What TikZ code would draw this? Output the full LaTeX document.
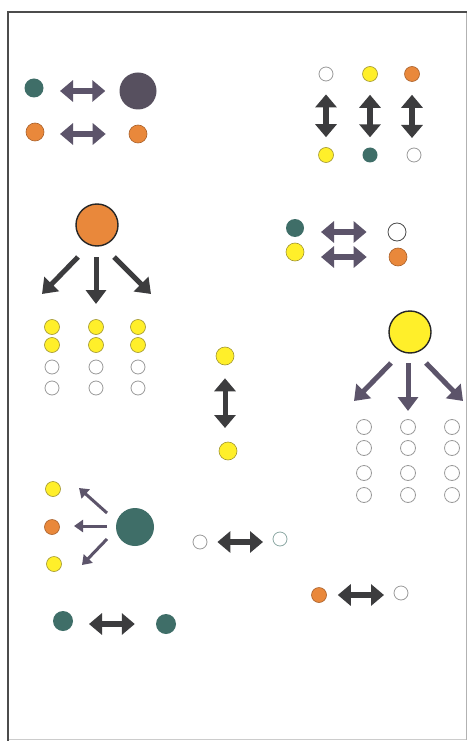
\documentclass[tikz,border=0pt]{standalone}
\usetikzlibrary{arrows.meta}
\definecolor{teal1}{HTML}{3F6E68}
\definecolor{plum}{HTML}{57505F}
\definecolor{org}{HTML}{E9883B}
\definecolor{orgline}{HTML}{A9602A}
\definecolor{yel}{HTML}{FFEF2A}
\definecolor{yelline}{HTML}{A09530}
\definecolor{darkar}{HTML}{3C3C3E}
\definecolor{plumar}{HTML}{5C546A}
\definecolor{ring}{HTML}{9A9A9A}
\tikzset{
  dot/.style={circle, inner sep=0pt, minimum size=#1},
  tealdot/.style={dot=#1, fill=teal1},
  orgdot/.style={dot=#1, fill=org, draw=orgline, line width=0.6pt},
  yeldot/.style={dot=#1, fill=yel, draw=yelline, line width=0.6pt},
  whitedot/.style={dot=#1, fill=white, draw=ring, line width=0.8pt},
  bigorg/.style={dot=42pt, fill=org, draw=black!85, line width=1.4pt},
  bigyel/.style={dot=42pt, fill=yel, draw=black!85, line width=1.4pt},
  dbl/.style={line width=6pt, arrows={Triangle[width=21pt,length=13pt]-Triangle[width=21pt,length=13pt]}},
  fanarrow/.style={line width=5pt, arrows={-Triangle[width=20pt,length=14pt]}},
  thinarrow/.style={line width=3pt, arrows={-Triangle[width=12pt,length=9pt]}},
}
\begin{document}
\begin{tikzpicture}[x=1pt,y=-1pt]
\useasboundingbox (0,0) rectangle (468,743);
\fill[white] (0,0) rectangle (468,743);
% frame
\draw[black!20, line width=0.8pt] (8,739) -- (466,739);
\draw[black!30, line width=1pt] (466.5,12) -- (466.5,740);
\draw[black!70, line width=2pt, line cap=rect] (8,740) -- (8,12) -- (466,12);

% top-left pairs
\node[tealdot=19pt] (tl1) at (34,88) {};
\node[dot=37pt, fill=plum] (tl2) at (138,91) {};
\node[orgdot=18pt] (tl3) at (35,132) {};
\node[orgdot=18pt] (tl4) at (138,134) {};
\draw[dbl, plumar, shorten <=26pt, shorten >=14pt] (tl2 -| tl1) -- (tl2);
\draw[dbl, plumar, shorten <=25pt, shorten >=23pt] (tl4 -| tl3) -- (tl4);

% top-right verticals
\node[whitedot=14pt] (tr1) at (326,74) {};
\node[yeldot=15pt] (tr2) at (370,74) {};
\node[orgdot=15pt] (tr3) at (412,74) {};
\node[yeldot=15pt] (tr4) at (326,155) {};
\node[tealdot=15pt] (tr5) at (370,155) {};
\node[whitedot=14pt] (tr6) at (414,155) {};
\draw[dbl, darkar, shorten <=13pt, shorten >=10pt] (tr1) -- (tr4);
\draw[dbl, darkar, shorten <=13pt, shorten >=10pt] (tr2) -- (tr5);
\draw[dbl, darkar, shorten <=13pt, shorten >=17pt] (tr3) -- (tr3 |- tr6);

% mid-right horizontals
\node[tealdot=18pt] (mr1) at (295,228) {};
\node[yeldot=18pt] (mr2) at (295,252) {};
\node[whitedot=18pt, draw=black!70] (mr3) at (397,232) {};
\node[orgdot=18pt] (mr4) at (398,257) {};
\draw[dbl, plumar, shorten <=26pt, shorten >=21pt] (mr3 -| mr1) -- (mr3);
\draw[dbl, plumar, shorten <=26pt, shorten >=22pt] (mr4 -| mr2) -- (mr4);

% orange fan
\node[bigorg] (of) at (97,225) {};
\coordinate (ofL1) at (78,257); \coordinate (ofL2) at (42,294);
\coordinate (ofM1) at (96,257); \coordinate (ofM2) at (96,304);
\coordinate (ofR1) at (114,257); \coordinate (ofR2) at (151,294);
\draw[fanarrow, darkar] (ofL1) -- (ofL2);
\draw[fanarrow, darkar] (ofM1) -- (ofM2);
\draw[fanarrow, darkar] (ofR1) -- (ofR2);
\foreach \x/\c in {52/a,96/b,138/c}{
  \node[yeldot=15pt] (o\c1) at (\x,327) {};
  \node[yeldot=15pt] (o\c2) at (\x,345) {};
  \node[whitedot=14pt] (o\c3) at (\x,367) {};
  \node[whitedot=14pt] (o\c4) at (\x,388) {};
}

% middle vertical
\node[yeldot=18pt] (mv1) at (225,356) {};
\node[yeldot=18pt] (mv2) at (228,451) {};
\draw[dbl, darkar, line width=5pt, shorten <=13pt, shorten >=23pt] (mv1) -- (mv1 |- mv2);

% yellow fan
\node[bigyel] (yf) at (410,332) {};
\coordinate (yfL1) at (391,363); \coordinate (yfL2) at (354,401);
\coordinate (yfM1) at (408,363); \coordinate (yfM2) at (408,411);
\coordinate (yfR1) at (426,363); \coordinate (yfR2) at (463,401);
\draw[fanarrow, plumar] (yfL1) -- (yfL2);
\draw[fanarrow, plumar] (yfM1) -- (yfM2);
\draw[fanarrow, plumar] (yfR1) -- (yfR2);
\foreach \x/\c in {364/a,408/b,452/c}{
  \node[whitedot=15pt] (y\c1) at (\x,427) {};
  \node[whitedot=15pt] (y\c2) at (\x,448) {};
  \node[whitedot=15pt] (y\c3) at (\x,473) {};
  \node[whitedot=15pt] (y\c4) at (\x,495) {};
}

% teal fan
\node[dot=38pt, fill=teal1] (tf) at (135,527) {};
\node[yeldot=15pt] (tfa) at (53,489) {};
\node[orgdot=15pt] (tfb) at (52,527) {};
\node[yeldot=15pt] (tfc) at (54,564) {};
\coordinate (tfU1) at (107,513); \coordinate (tfU2) at (79,488);
\coordinate (tfM1) at (107,526); \coordinate (tfM2) at (74,526);
\coordinate (tfL1) at (107,539); \coordinate (tfL2) at (82,565);
\draw[thinarrow, plumar] (tfU1) -- (tfU2);
\draw[thinarrow, plumar] (tfM1) -- (tfM2);
\draw[thinarrow, plumar] (tfL1) -- (tfL2);

% lower pairs
\node[whitedot=14pt] (lp1) at (200,542) {};
\node[whitedot=14pt, draw=teal1!60] (lp2) at (280,539) {};
\draw[dbl, darkar, shorten <=10pt, shorten >=17pt] (lp1) -- (lp1 -| lp2);

\node[orgdot=15pt] (lp3) at (319,595) {};
\node[whitedot=14pt] (lp4) at (401,593) {};
\draw[dbl, darkar, shorten <=11pt, shorten >=17pt] (lp3) -- (lp3 -| lp4);

\node[tealdot=20pt] (lp5) at (63,621) {};
\node[tealdot=20pt] (lp6) at (166,624) {};
\draw[dbl, darkar, shorten <=26pt, shorten >=21pt] (lp6 -| lp5) -- (lp6);
\end{tikzpicture}
\end{document}
